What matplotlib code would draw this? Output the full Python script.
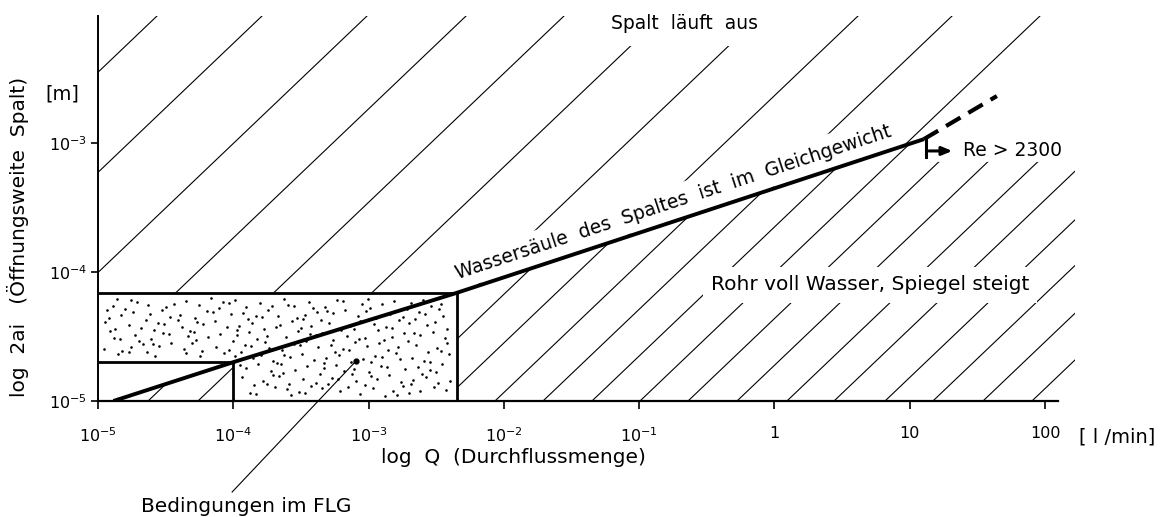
import numpy as np
import matplotlib.pyplot as plt
import matplotlib.transforms as mtransforms
from matplotlib.patches import Polygon
from matplotlib.collections import LineCollection
from matplotlib.ticker import NullLocator

plt.rcParams['font.family'] = ['DejaVu Sans']
plt.rcParams['mathtext.default'] = 'regular'

# axes: Q in l/min (x), 2ai in m (y)
x_ticks = [1e-5, 1e-4, 1e-3, 1e-2, 1e-1, 1, 10, 100]
x_ticklabels = [r'$10^{-5}$', r'$10^{-4}$', r'$10^{-3}$', r'$10^{-2}$',
                r'$10^{-1}$', '1', '10', '100']
y_ticks = [1e-5, 1e-4, 1e-3]
y_ticklabels = [r'$10^{-5}$', r'$10^{-4}$', r'$10^{-3}$']
x_lim = [1e-5, 10**2.221]
y_lim = [1e-5, 10**-2.016]
x_axis_end = 124.5

# Wassersaeule im Gleichgewicht
eq_q = [1.3e-5, 1e-4, 4.5e-3, 12.7]
eq_a = [1e-5, 2e-5, 6.9e-5, 1.07e-3]
# dashed continuation (turbulent)
turb_q = [12.7, 44]
turb_a = [1.07e-3, 2.31e-3]
# Re > 2300 marker
re_q = [13.2, 21.6]
re_a = [8.67e-4, 7.78e-4, 1.05e-3]

# FLG box
flg_q = [1e-5, 4.5e-3]
flg_a = [1e-5, 6.9e-5]
flg_cut_q = 1e-4
flg_cut_a = 2e-5

# hatch lines: log10(2ai) = log10(Q) + k
upper_k = [2.548, 1.772, 0.996, 0.264, -0.460, -1.185, -1.909, -2.633, -3.328, -3.978]
lower_k = [-0.370, -0.739, -2.173, -2.550, -2.934, -3.289, -3.651, -4.006, -4.361,
           -4.723, -5.092, -5.440, -5.817, -6.171, -6.541, -6.903]

# region corners
upper_corner_q = 100
lower_top_a = 7.13e-4

# leader to FLG label
flg_pt = (8.07e-4, 2.04e-5)
flg_leader_start = (9.8e-5, 1.97e-6)
flg_label_pos = (1.24e-4, 1.51e-6)

fig = plt.figure(figsize=(11.6, 5.17), dpi=100)
ax = fig.add_axes([98/1160, 116/517, 977/1160, 385/517])
ax.set_xscale('log')
ax.set_yscale('log')
ax.set_xlim(x_lim)
ax.set_ylim(y_lim)

for s in ['top', 'right']:
    ax.spines[s].set_visible(False)
ax.spines['bottom'].set_bounds(x_lim[0], x_axis_end)
ax.spines['left'].set_linewidth(1.4)
ax.spines['bottom'].set_linewidth(1.6)

ax.set_xticks(x_ticks)
ax.set_xticklabels(x_ticklabels)
ax.set_yticks(y_ticks)
ax.set_yticklabels(y_ticklabels)
ax.xaxis.set_minor_locator(NullLocator())
ax.yaxis.set_minor_locator(NullLocator())
ax.tick_params(axis='x', direction='out', length=6, width=1.2, pad=12, labelsize=11.5)
ax.tick_params(axis='y', direction='out', length=5, width=1.2, pad=3, labelsize=11.5)


def hatch_lines(ks, clip_pts):
    q = np.array([1e-7, 1e4])
    segs = [[(qq, qq * 10**k) for qq in q] for k in ks]
    lc = LineCollection(segs, colors='black', linewidths=0.8, zorder=1)
    clip = Polygon(clip_pts, closed=True, transform=ax.transData)
    ax.add_collection(lc)
    lc.set_clip_path(clip)


# upper region: Spalt laeuft aus
hatch_lines(upper_k, [(x_lim[0], flg_a[1]), (x_lim[0], y_lim[1]),
                      (upper_corner_q, y_lim[1]), (turb_q[1], turb_a[1]),
                      (eq_q[3], eq_a[3]), (eq_q[2], eq_a[2])])
# lower right region: Rohr voll Wasser
hatch_lines(lower_k, [(flg_q[1], y_lim[0]), (eq_q[2], eq_a[2]), (eq_q[3], eq_a[3]),
                      (eq_q[3], lower_top_a), (x_lim[1], lower_top_a),
                      (x_lim[1], y_lim[0])])
# small triangle under the line
hatch_lines(lower_k[:2], [(eq_q[0], eq_a[0]), (eq_q[1], eq_a[1]), (flg_cut_q, y_lim[0])])


# stipple texture for the FLG area (deterministic Halton sequence)
def halton(i, b):
    f, r = 1.0, 0.0
    while i > 0:
        f /= b
        r += f * (i % b)
        i //= b
    return r


lq0, lq1 = np.log10(flg_q)
la0, la1 = np.log10(flg_a)
dots_q, dots_a = [], []
for i in range(1, 330):
    u = lq0 + 0.04 + (lq1 - lq0 - 0.08) * halton(i, 2)
    v = la0 + 0.04 + (la1 - la0 - 0.08) * halton(i, 3)
    if u < np.log10(flg_cut_q) + 0.04 and v < np.log10(flg_cut_a) + 0.04:
        continue
    dots_q.append(10**u)
    dots_a.append(10**v)
ax.scatter(dots_q, dots_a, s=3.5, color='black', linewidths=0, zorder=2)

lw_box = 2.0
ax.plot([flg_q[0], flg_q[1]], [flg_a[1], flg_a[1]], color='black', lw=lw_box, zorder=4)
ax.plot([flg_q[1], flg_q[1]], [flg_a[1], flg_a[0]], color='black', lw=lw_box, zorder=4)
ax.plot([flg_q[0], flg_cut_q], [flg_cut_a, flg_cut_a], color='black', lw=lw_box, zorder=4)
ax.plot([flg_cut_q, flg_cut_q], [flg_cut_a, flg_a[0]], color='black', lw=lw_box, zorder=4)

# main line + dashed extension
ax.plot(eq_q, eq_a, color='black', lw=2.8, zorder=5, solid_capstyle='butt')
ax.plot(turb_q, turb_a, color='black', lw=3.0, zorder=5, ls=(0, (4, 2.2)))

# Re > 2300 marker
ax.plot([re_q[0], re_q[0]], [re_a[2], re_a[1]], color='black', lw=2.2, zorder=5)
ax.annotate('', xy=(re_q[1], re_a[0]), xytext=(re_q[0], re_a[0]),
            arrowprops=dict(arrowstyle='-|>,head_length=0.6,head_width=0.25',
                            color='black', lw=2.2), zorder=5)
ax.text(24.7, re_a[0], 'Re > 2300', fontsize=13.5, ha='left', va='center', zorder=5)

# labels in the regions
ax.text(10**(-5 + 587/135.3), 10**(-5 + 377/129), 'Spalt  läuft  aus', fontsize=13.5,
        ha='center', va='center', zorder=3,
        bbox=dict(facecolor='white', edgecolor='none', pad=9))
ax.text(10**(-5 + 772/135.3), 10**(-5 + 116/129), 'Rohr voll Wasser, Spiegel steigt',
        fontsize=14.5, ha='center', va='center', zorder=3,
        bbox=dict(facecolor='white', edgecolor='none', pad=6))

# text along the equilibrium line
q_mid = 10**(-5 + (679 - 98)/135.3)
a_mid = 10**(np.interp(np.log10(q_mid), np.log10(eq_q[2:]), np.log10(eq_a[2:])))
p0 = ax.transData.transform((eq_q[2], eq_a[2]))
p1 = ax.transData.transform((eq_q[3], eq_a[3]))
ang = np.degrees(np.arctan2(p1[1] - p0[1], p1[0] - p0[0]))
off = mtransforms.offset_copy(ax.transData, fig=fig,
                              x=-np.sin(np.radians(ang)) * 9,
                              y=np.cos(np.radians(ang)) * 9, units='dots')
ax.text(q_mid, a_mid, 'Wassersäule  des  Spaltes  ist  im  Gleichgewicht', fontsize=13.5,
        rotation=ang, rotation_mode='anchor', ha='center', va='bottom',
        transform=off, bbox=dict(facecolor='white', edgecolor='none', pad=5), zorder=3)

# FLG leader
ax.plot([flg_leader_start[0], flg_pt[0]], [flg_leader_start[1], flg_pt[1]],
        color='black', lw=0.8, clip_on=False, zorder=4)
ax.plot([flg_pt[0]], [flg_pt[1]], 'o', color='black', ms=3.5, zorder=4)
ax.text(flg_label_pos[0], flg_label_pos[1], 'Bedingungen im FLG', fontsize=14.5,
        ha='center', va='center', clip_on=False)

# axis labels
ax.set_xlabel('log  Q  (Durchflussmenge)', fontsize=14.5)
ax.xaxis.set_label_coords(0.425, -0.148)
ax.xaxis.label.set_va('center')
ax.set_ylabel('log  2ai   (Öffnungsweite  Spalt)', fontsize=14.5)
ax.yaxis.set_label_coords(-0.082, 0.426)
ax.yaxis.label.set_va('center')
ax.text(-0.0368, 0.797, '[m]', transform=ax.transAxes, fontsize=14,
        ha='center', va='center')
ax.text(1.043, -0.0935, '[ l /min]', transform=ax.transAxes, fontsize=14,
        ha='center', va='center', clip_on=False)

fig.savefig('out.png', dpi=100)
